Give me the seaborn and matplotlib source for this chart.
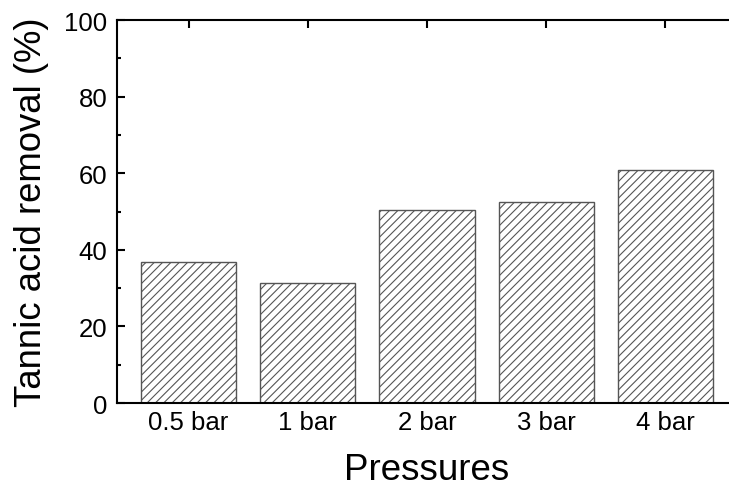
import matplotlib
matplotlib.use("Agg")
import matplotlib.pyplot as plt
import seaborn as sns
import pandas as pd
from matplotlib.ticker import MultipleLocator

# Data
pressures = ['0.5 bar', '1 bar', '2 bar', '3 bar', '4 bar']
removal = [36.8, 31.3, 50.4, 52.5, 60.8]

df = pd.DataFrame({'Pressure': pressures, 'Removal': removal})

sns.set_style('ticks')
plt.rcParams['font.family'] = ['Liberation Sans', 'DejaVu Sans']
plt.rcParams['hatch.color'] = '#1a1a1a'
plt.rcParams['hatch.linewidth'] = 0.8
plt.rcParams['text.color'] = 'black'
plt.rcParams['xtick.color'] = 'black'
plt.rcParams['ytick.color'] = 'black'
plt.rcParams['axes.labelcolor'] = 'black'

fig = plt.figure(figsize=(7.29, 4.89), dpi=100)
ax = fig.add_axes([0.1605, 0.1738, 0.8505, 0.7832])

sns.barplot(data=df, x='Pressure', y='Removal', color='white', width=0.8,
            edgecolor='#555555', linewidth=1.0, ax=ax)
for bar in ax.patches:
    bar.set_hatch('////')

ax.set_xlim(-0.6, 4.6)
ax.set_ylim(0, 100)
ax.yaxis.set_major_locator(MultipleLocator(20))
ax.yaxis.set_minor_locator(MultipleLocator(10))

for side in ['left', 'right', 'top', 'bottom']:
    ax.spines[side].set_visible(True)
    ax.spines[side].set_linewidth(1.5)
    ax.spines[side].set_color('black')

ax.tick_params(axis='both', which='major', direction='in', length=6, width=1.5,
               top=True, right=True, labelsize=18.5)
ax.tick_params(axis='x', which='major', pad=5)
ax.tick_params(axis='y', which='major', pad=7)
ax.tick_params(axis='y', which='minor', direction='in', length=3, width=1.5, right=True)

ax.set_xlabel('Pressures', fontsize=26.5, labelpad=13)
ax.set_ylabel('Tannic acid removal (%)', fontsize=26.3, labelpad=11)

fig.savefig('out.png', dpi=100)
